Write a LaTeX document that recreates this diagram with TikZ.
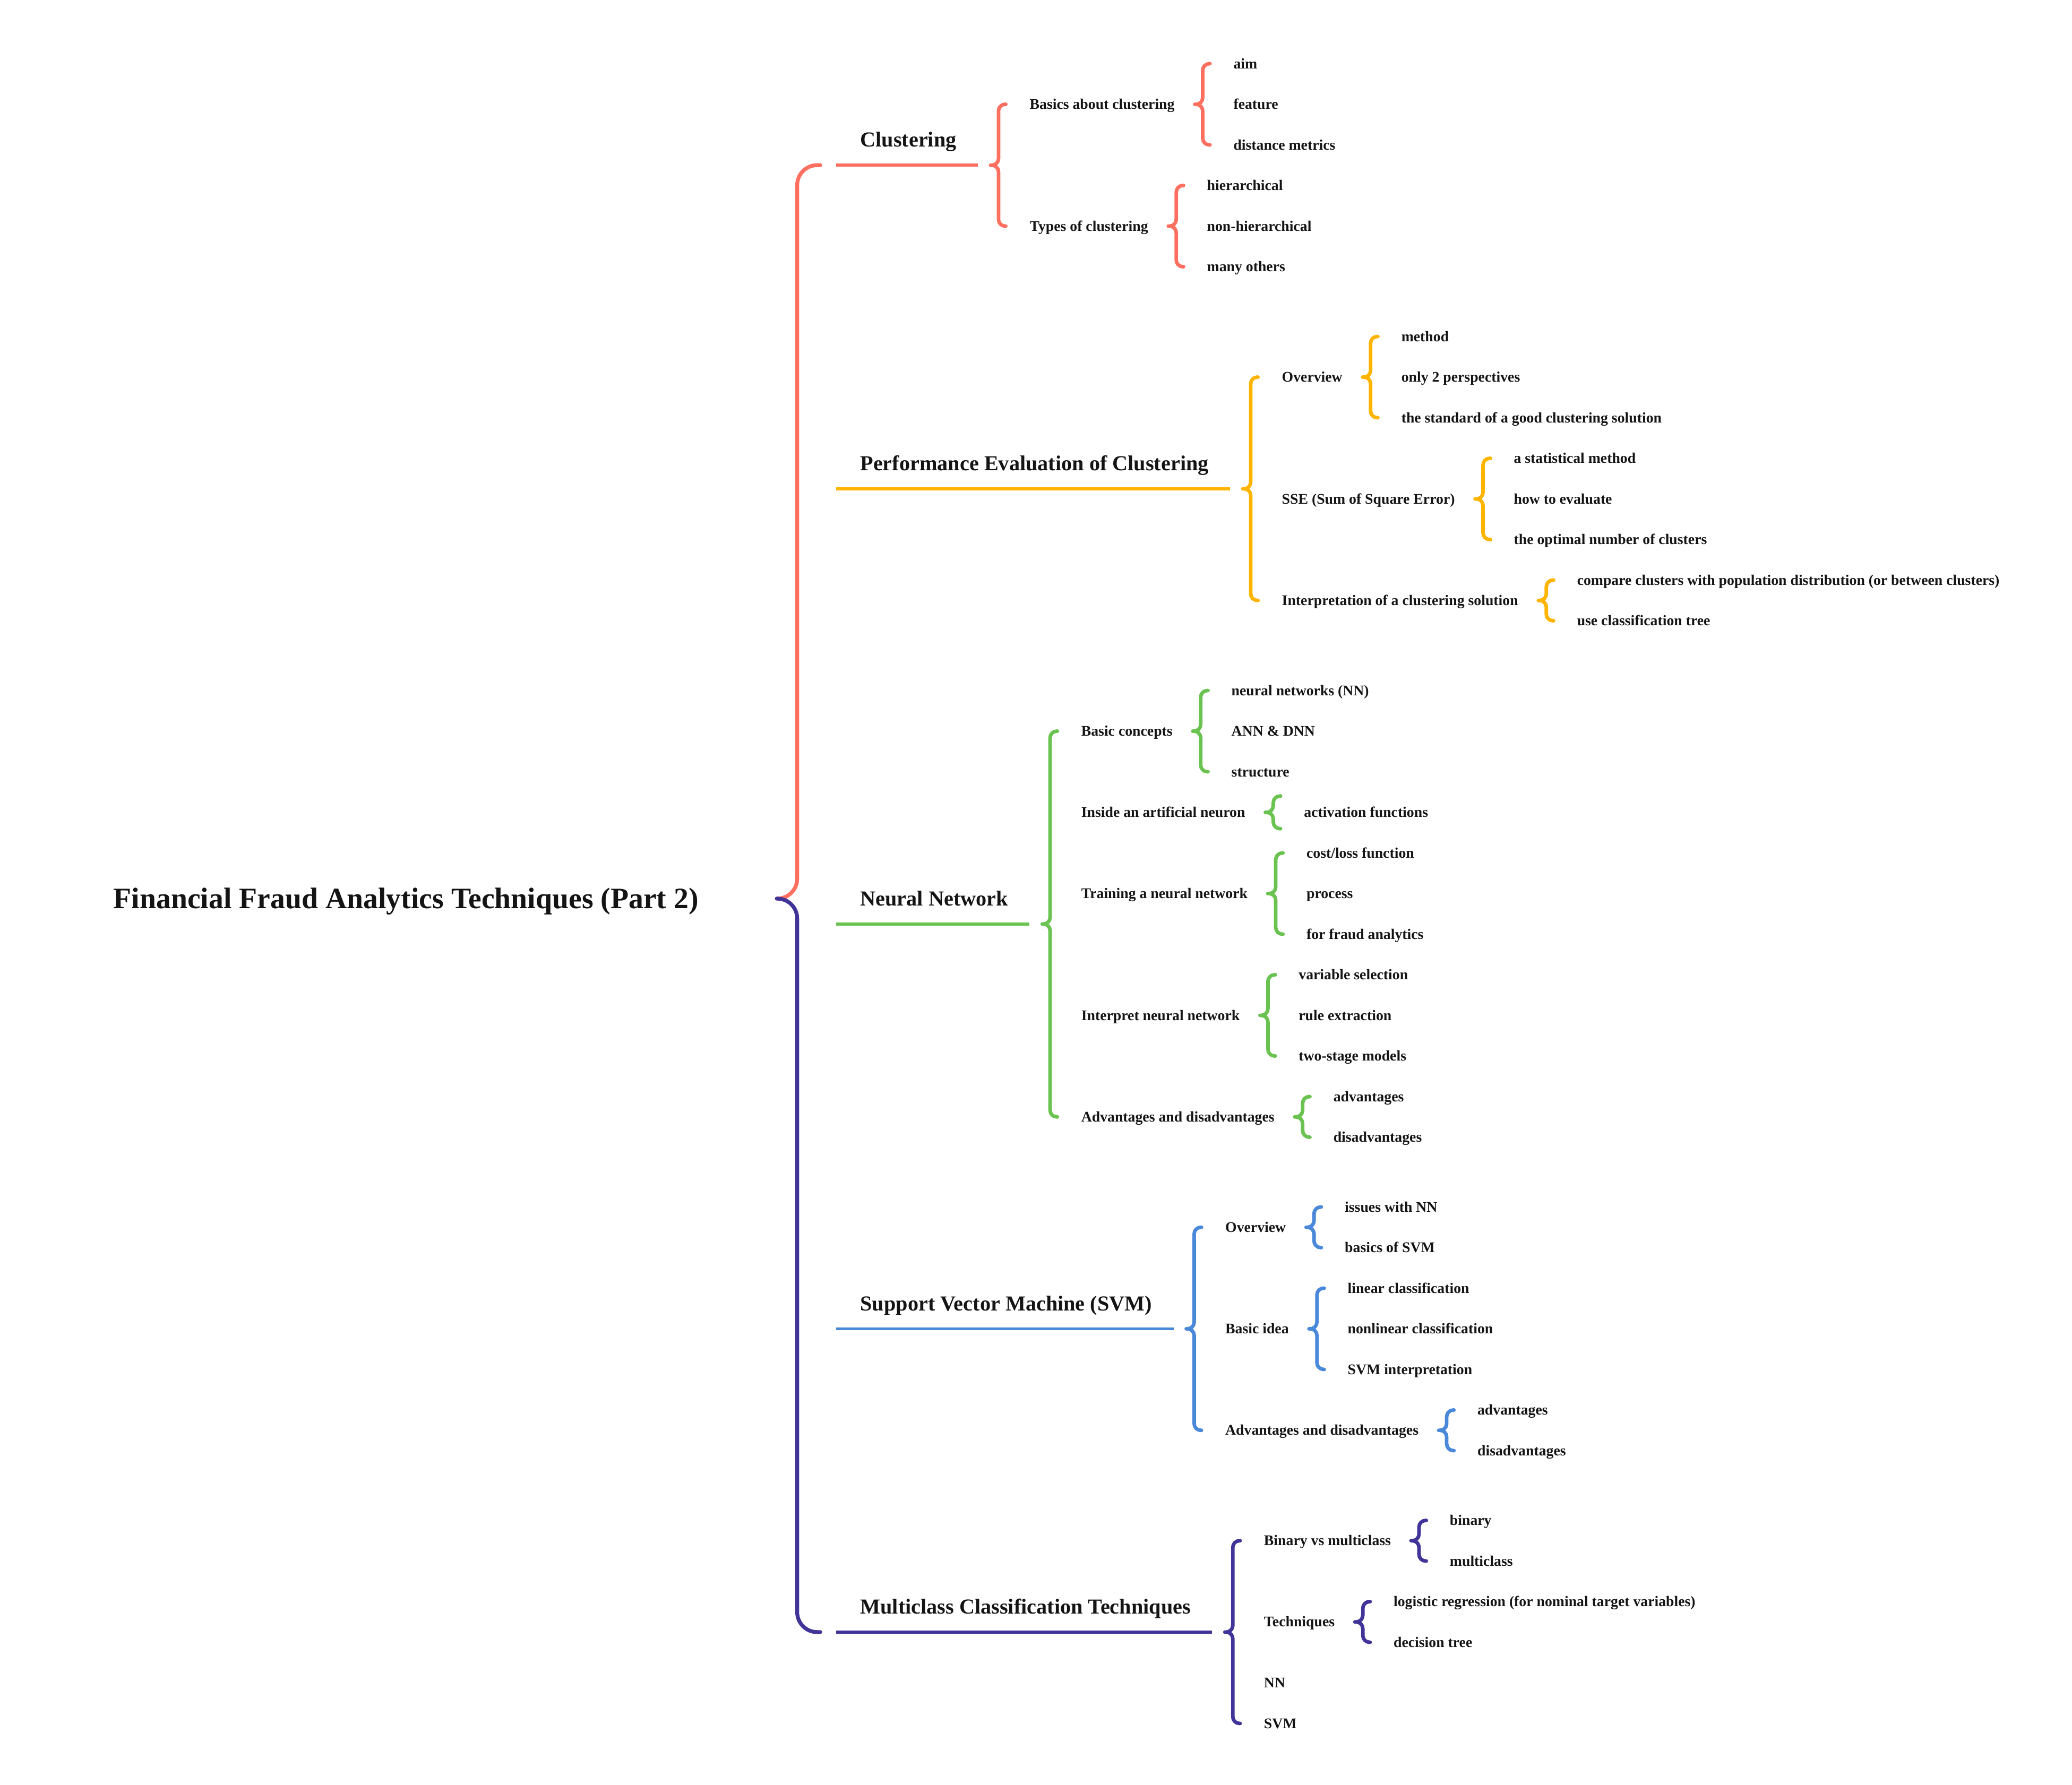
\documentclass[tikz,border=0pt]{standalone}
\usepackage{fontspec}
\setmainfont{Liberation Serif}
\usetikzlibrary{calc}
\definecolor{cA}{HTML}{FF6F5F}
\definecolor{cB}{HTML}{FFB400}
\definecolor{cC}{HTML}{6AC350}
\definecolor{cD}{HTML}{4A89DA}
\definecolor{cE}{HTML}{403499}
\tikzset{
  txt/.style={inner sep=0pt, anchor=west, text height=10pt, text depth=2.68pt, text=black!92, font=\bfseries\fontsize{11.1}{13}\selectfont},
  lbl/.style={inner sep=0pt, anchor=west, text height=14pt, text depth=3.4pt, text=black!92, font=\bfseries\fontsize{16.1}{19}\selectfont},
  rootlbl/.style={inner sep=0pt, anchor=west, text height=19pt, text depth=4.2pt, text=black!92, font=\bfseries\fontsize{22.3}{26}\selectfont},
  brc/.style={draw=#1, line width=2.7pt, line cap=round, line join=round, rounded corners=5pt},
  mbrc/.style={draw=#1, line width=2.9pt, line cap=round, line join=round, rounded corners=15pt},
  bline/.style={draw=#1, line width=2.2pt, line cap=butt},
}
% branch: name, colour, line y, label
\newcommand\branch[4]{%
  \node[lbl] (#1) at (648,{19-#3}) {#4};
  \coordinate (#1s) at (630,-#3);
  \path let \p1=(#1.east) in coordinate (#1e) at (\x1+16pt,-#3pt);
  \draw[bline=#2] (#1s) -- (#1e);
  \coordinate (#1t) at ([xshift=9.5pt]#1e);
}
% child text: name, reference point, x offset, y, text
\newcommand\kid[5]{\path let \p1=(#2) in node[txt] (#1) at (\x1+#3pt,-#4pt) {#5};}
% curly brace: colour, parent point, tip offset, first child, last child
\newcommand\cbr[5]{%
  \draw[brc=#1] let \p1=(#2), \p2=(#4.west), \p3=(#5.west) in
    (\x1+#3pt+11.5pt,\y2) -- (\x1+#3pt+6pt,\y2) -- (\x1+#3pt+6pt,\y1) -- (\x1+#3pt,\y1)
    (\x1+#3pt,\y1) -- (\x1+#3pt+6pt,\y1) -- (\x1+#3pt+6pt,\y3) -- (\x1+#3pt+11.5pt,\y3);}
% brace for a single child: colour, parent point, tip offset, child
\newcommand\sbr[4]{%
  \draw[brc=#1] let \p1=(#2), \p2=(#4.west) in
    (\x1+#3pt+11.5pt,\y2+12.3pt) -- (\x1+#3pt+6pt,\y2+12.3pt) -- (\x1+#3pt+6pt,\y1) -- (\x1+#3pt,\y1)
    (\x1+#3pt,\y1) -- (\x1+#3pt+6pt,\y1) -- (\x1+#3pt+6pt,\y2-12.3pt) -- (\x1+#3pt+11.5pt,\y2-12.3pt);}
\begin{document}
\begin{tikzpicture}[x=1pt,y=1pt]
\useasboundingbox (0,0) rectangle (1561.2,-1345.2);

\node[rootlbl] (root) at (85.3,-677.2) {Financial Fraud Analytics Techniques (Part 2)};
\coordinate (rt) at ([xshift=58.7pt]root.east);

% ---------- Clustering
\branch{b1}{cA}{124.5}{Clustering}
\kid{c1}{b1t}{29.3}{78.6}{Basics about clustering}
\kid{c2}{b1t}{29.3}{170.4}{Types of clustering}
\kid{c1a}{c1.east}{44}{48}{aim}
\kid{c1b}{c1.east}{44}{78.6}{feature}
\kid{c1c}{c1.east}{44}{109.2}{distance metrics}
\kid{c2a}{c2.east}{44}{139.8}{hierarchical}
\kid{c2b}{c2.east}{44}{170.4}{non-hierarchical}
\kid{c2c}{c2.east}{44}{201}{many others}
\cbr{cA}{b1e}{9.5}{c1}{c2}
\cbr{cA}{c1.east}{15}{c1a}{c1c}
\cbr{cA}{c2.east}{15}{c2a}{c2c}

% ---------- Performance evaluation
\branch{b2}{cB}{368.35}{Performance Evaluation of Clustering}
\kid{p1}{b2t}{29.3}{284.2}{Overview}
\kid{p2}{b2t}{29.3}{376}{SSE (Sum of Square Error)}
\kid{p3}{b2t}{29.3}{452.5}{Interpretation of a clustering solution}
\kid{p1a}{p1.east}{44}{253.6}{method}
\kid{p1b}{p1.east}{44}{284.2}{only 2 perspectives}
\kid{p1c}{p1.east}{44}{314.8}{the standard of a good clustering solution}
\kid{p2a}{p2.east}{44}{345.4}{a statistical method}
\kid{p2b}{p2.east}{44}{376}{how to evaluate}
\kid{p2c}{p2.east}{44}{406.6}{the optimal number of clusters}
\kid{p3a}{p3.east}{44}{437.2}{compare clusters with population distribution (or between clusters)}
\kid{p3b}{p3.east}{44}{467.8}{use classification tree}
\cbr{cB}{b2e}{9.5}{p1}{p3}
\cbr{cB}{p1.east}{15}{p1a}{p1c}
\cbr{cB}{p2.east}{15}{p2a}{p2c}
\cbr{cB}{p3.east}{15}{p3a}{p3b}

% ---------- Neural network
\branch{b3}{cC}{696.35}{Neural Network}
\kid{n1}{b3t}{29.3}{551}{Basic concepts}
\kid{n2}{b3t}{29.3}{612.2}{Inside an artificial neuron}
\kid{n3}{b3t}{29.3}{673.4}{Training a neural network}
\kid{n4}{b3t}{29.3}{765.2}{Interpret neural network}
\kid{n5}{b3t}{29.3}{841.7}{Advantages and disadvantages}
\kid{n1a}{n1.east}{44}{520.4}{neural networks (NN)}
\kid{n1b}{n1.east}{44}{551}{ANN \& DNN}
\kid{n1c}{n1.east}{44}{581.6}{structure}
\kid{n2a}{n2.east}{44}{612.2}{activation functions}
\kid{n3a}{n3.east}{44}{642.8}{cost/loss function}
\kid{n3b}{n3.east}{44}{673.4}{process}
\kid{n3c}{n3.east}{44}{704}{for fraud analytics}
\kid{n4a}{n4.east}{44}{734.6}{variable selection}
\kid{n4b}{n4.east}{44}{765.2}{rule extraction}
\kid{n4c}{n4.east}{44}{795.8}{two-stage models}
\kid{n5a}{n5.east}{44}{826.4}{advantages}
\kid{n5b}{n5.east}{44}{857}{disadvantages}
\cbr{cC}{b3e}{9.5}{n1}{n5}
\cbr{cC}{n1.east}{15}{n1a}{n1c}
\sbr{cC}{n2.east}{15}{n2a}
\cbr{cC}{n3.east}{15}{n3a}{n3c}
\cbr{cC}{n4.east}{15}{n4a}{n4c}
\cbr{cC}{n5.east}{15}{n5a}{n5b}

% ---------- SVM
\branch{b4}{cD}{1001.4}{Support Vector Machine (SVM)}
\kid{s1}{b4t}{29.3}{924.9}{Overview}
\kid{s2}{b4t}{29.3}{1001.4}{Basic idea}
\kid{s3}{b4t}{29.3}{1077.9}{Advantages and disadvantages}
\kid{s1a}{s1.east}{44}{909.6}{issues with NN}
\kid{s1b}{s1.east}{44}{940.2}{basics of SVM}
\kid{s2a}{s2.east}{44}{970.8}{linear classification}
\kid{s2b}{s2.east}{44}{1001.4}{nonlinear classification}
\kid{s2c}{s2.east}{44}{1032}{SVM interpretation}
\kid{s3a}{s3.east}{44}{1062.6}{advantages}
\kid{s3b}{s3.east}{44}{1093.2}{disadvantages}
\cbr{cD}{b4e}{9.5}{s1}{s3}
\cbr{cD}{s1.east}{15}{s1a}{s1b}
\cbr{cD}{s2.east}{15}{s2a}{s2c}
\cbr{cD}{s3.east}{15}{s3a}{s3b}

% ---------- Multiclass
\branch{b5}{cE}{1229.95}{Multiclass Classification Techniques}
\kid{m1}{b5t}{29.3}{1161.1}{Binary vs multiclass}
\kid{m2}{b5t}{29.3}{1222.3}{Techniques}
\kid{m3}{b5t}{29.3}{1268.2}{NN}
\kid{m4}{b5t}{29.3}{1298.8}{SVM}
\kid{m1a}{m1.east}{44}{1145.8}{binary}
\kid{m1b}{m1.east}{44}{1176.4}{multiclass}
\kid{m2a}{m2.east}{44}{1207}{logistic regression (for nominal target variables)}
\kid{m2b}{m2.east}{44}{1237.6}{decision tree}
\cbr{cE}{b5e}{9.5}{m1}{m4}
\cbr{cE}{m1.east}{15}{m1a}{m1b}
\cbr{cE}{m2.east}{15}{m2a}{m2b}

% ---------- main brace
\draw[mbrc=cA] let \p1=(rt), \p2=(b1s) in
  (\x2-12pt,\y2) -- (\x1+15.4pt,\y2) -- (\x1+15.4pt,\y1) -- (\x1,\y1);
\draw[mbrc=cE] let \p1=(rt), \p3=(b5s) in
  (\x1,\y1) -- (\x1+15.4pt,\y1) -- (\x1+15.4pt,\y3) -- (\x3-12pt,\y3);
\end{tikzpicture}
\end{document}
